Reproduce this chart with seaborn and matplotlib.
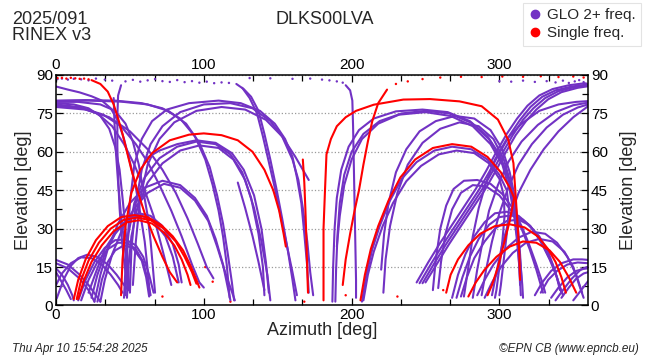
import matplotlib
matplotlib.use('Agg')
import matplotlib.pyplot as plt
from matplotlib.lines import Line2D
from matplotlib.ticker import MultipleLocator
import seaborn as sns
import pandas as pd


glo_west_low = [
    [(0, 17.8), (8, 16), (16, 12), (22, 8), (27, 4), (30, 1.5)],
    [(0, 16.5), (8, 14.5), (16, 10.5), (22, 6), (26, 1.5)],
    [(0, 14.5), (4, 12), (8, 8), (11, 4), (12, 2)],
    [(0, 13), (3, 10), (7, 6), (10, 2.5)],
    [(0.5, 2.8), (5, 10), (10, 15.5), (15, 18.5), (21, 19.8), (28, 19), (35, 16), (41, 12), (46, 8), (49, 6)],
    [(0, 8), (4, 12.5), (10, 16.5), (17, 18.8), (24, 18.5), (31, 16), (37, 12), (42, 8), (45, 5)],
]

glo_west_mid = [
    [(15, 2), (20, 10), (26, 17), (33, 22.5), (40, 25.5), (47, 25.8), (54, 23.5), (59, 19), (63, 12), (66, 5)],
    [(17, 2), (22, 10), (28, 17), (35, 22), (42, 24.5), (48, 24.5), (54, 22), (59, 17), (62, 10), (64, 4)],
    [(28, 1.5), (31, 10), (35, 17), (40, 21.5), (46, 23.5), (52, 22.5), (58, 17.5), (61, 11), (63, 3.5)],
    [(24, 3), (28, 12), (33, 20), (40, 28), (48, 33.5), (56, 36), (64, 35), (72, 31), (79, 24), (83, 16), (85, 9)],
    [(22, 5), (27, 13), (33, 22), (42, 30), (50, 34.5), (58, 35), (66, 33), (74, 27), (79, 19), (83, 9)],
    [(26, 1.5), (30, 12), (35, 22), (42, 32), (50, 40), (60, 46), (72, 48.7), (84, 47), (94, 42), (102, 35),
     (108, 26), (113, 16), (118, 2)],
    [(30, 1.5), (33, 10), (38, 20), (45, 30), (53, 38), (62, 44), (73, 47.5), (84, 46), (94, 41), (103, 33),
     (109, 23), (115, 12), (121, 2)],
]

glo_west_high = [
    [(46, 3), (47, 15), (49, 28), (53, 40), (60, 50), (70, 57.5), (82, 62), (95, 64), (108, 63), (118, 59),
     (126, 52), (132, 42), (137, 28), (140, 15), (141, 4)],
    [(48, 3), (49, 15), (51, 27), (55, 38), (62, 48), (72, 55.5), (84, 60.5), (97, 62.5), (110, 61.5), (120, 57),
     (128, 49), (134, 38), (139, 25), (143, 12), (145, 2)],
    [(61, 57.5), (70, 60.5), (82, 63), (95, 64.5), (108, 63.5), (119, 59.5), (127, 53), (134, 43), (139, 30),
     (142, 17), (144, 5)],
    [(47, 4), (48, 20), (50, 40), (53, 55), (58, 65), (65, 72), (75, 76.5), (90, 79), (110, 80), (125, 79),
     (138, 76), (148, 71), (155, 65), (160, 58), (163, 50), (166, 40), (168, 28), (170, 15), (171, 5)],
    [(50, 5), (51, 22), (54, 40), (58, 53), (64, 63), (72, 70), (84, 75.5), (100, 78.5), (118, 79), (133, 77),
     (145, 72), (153, 66), (160, 57), (164, 49), (167, 38), (170, 25), (172, 13), (174, 4)],
    [(52, 8), (54, 25), (57, 42), (62, 55), (70, 65), (80, 71.5), (95, 76), (112, 77.5), (128, 76.5), (142, 72.5),
     (153, 66), (162, 58), (168, 52), (171, 49)],
    [(122, 86.5), (127, 84.5), (132, 81.5), (137, 76), (141, 67), (145, 57), (149, 46), (153, 34), (157, 21),
     (160, 10), (162, 2)],
    [(126, 85), (131, 81), (136, 75), (140, 66), (144, 56), (148, 46), (152, 35), (156, 24), (160, 13), (163, 4)],
    [(123, 48), (128, 38), (133, 27), (137, 17), (141, 6)],
]

glo_west_desc = [
    [(0, 85.5), (8, 84.3), (16, 83.2), (24, 81.7), (31, 80), (37, 77), (42, 72), (46, 65), (50, 56), (54, 46),
     (57, 36), (60, 25), (62, 14), (63.5, 4)],
    [(0, 79.5), (15, 79.5), (30, 78.5), (40, 76), (47, 71), (52, 64), (56, 55), (59, 45), (62, 35), (64, 25),
     (65.5, 15), (67, 5)],
    [(0, 79), (12, 78.5), (22, 77), (30, 74), (36, 69), (40, 62), (43, 53), (45, 42), (47, 30), (48.5, 18), (49.5, 6)],
    [(0, 78.5), (15, 77.5), (28, 75), (38, 70), (46, 63), (53, 55), (60, 45), (66, 35), (71, 24), (75, 15), (78, 8)],
    [(0, 78), (18, 77), (32, 74.5), (44, 70), (54, 63), (62, 56), (70, 47), (78, 37), (85, 27), (92, 16), (97, 9),
     (100, 7)],
    [(0, 77.5), (20, 76.5), (36, 73.5), (50, 68), (62, 61), (72, 53), (81, 44), (89, 34), (96, 24), (102, 15),
     (106.5, 10.6)],
    [(0, 80), (20, 80.2), (40, 80), (58, 79), (72, 77), (84, 73), (94, 66), (101, 57), (106, 47), (110, 37),
     (113, 27), (115.5, 16), (117.5, 3)],
    [(0, 79.8), (22, 80), (44, 79.6), (62, 78.5), (76, 76), (88, 71), (97, 63.5), (104, 54), (109, 43), (113, 32),
     (116, 21), (119, 9), (120.5, 2)],
    [(44, 86), (42, 82), (41.5, 74), (41.5, 62), (42, 50), (43, 38), (44.5, 26), (46.5, 15), (49, 6)],
    [(39, 81), (39.5, 72), (40.5, 60), (42, 48), (44, 35), (46.5, 23), (48.5, 12), (50, 5.4)],
]

glo_east_high = [
    [(196, 86), (199, 84), (200.5, 80), (201, 70), (201.5, 55), (202, 40), (202.5, 25), (203, 10), (203, 3)],
    [(187, 1.5), (187.5, 15), (188.5, 30), (190, 42), (193, 53), (198, 62), (205, 68.5), (215, 73), (230, 75.8),
     (248, 76.5), (265, 75.5), (280, 72), (292, 66), (300, 59), (306, 50), (309.5, 40), (311.5, 30), (313, 20),
     (314, 10), (314.5, 4)],
    [(189, 1.5), (189.5, 14), (190.5, 28), (192, 40), (195, 51), (200, 60), (208, 67), (219, 72), (234, 75),
     (250, 76), (266, 75), (281, 71.3), (293, 65), (301, 57.5), (307, 48), (310.5, 38), (312.5, 28), (314, 18),
     (315.5, 8), (316, 3)],
    [(190, 23), (192, 35), (195, 47), (200, 57), (207, 65), (218, 71), (232, 74.5), (250, 75.5), (267, 74),
     (282, 70), (294, 63), (302, 55), (307, 45), (310, 35), (312, 25), (313.5, 15), (314, 8)],
    [(220, 14), (222, 28), (225, 40), (230, 52), (237, 61), (246, 68), (257, 72), (270, 74), (283, 73), (294, 68.5),
     (302, 61), (307, 52), (310.5, 42), (312.5, 31), (314, 20), (315, 10)],
    [(221.5, 5), (223, 18), (226, 31), (231, 44), (238, 55), (248, 63.5), (260, 69), (273, 71.5), (286, 70),
     (296, 65), (303, 57), (307.5, 48), (310.5, 38), (312.5, 27), (313.5, 20)],
    [(207, 1.5), (210, 12), (214, 22), (219, 31), (226, 41), (234, 49.5), (244, 56), (256, 60.5), (268, 62),
     (281, 61), (292, 57), (300, 51), (305, 45), (306.5, 38), (305, 28), (303, 18), (301, 8), (300, 4)],
    [(208, 2), (211, 12), (215, 21), (221, 31), (228, 40), (237, 48.5), (247, 54.5), (259, 59), (271, 60.5),
     (283, 59.5), (293, 55.5), (300, 49.5), (303, 43), (303.5, 35), (302, 25), (300, 15), (298, 6), (297, 3)],
]

glo_east_band = [
    [(244, 9), (252, 17), (260, 24.5), (268, 31.5), (276, 38.5), (284, 45.5), (291, 52.5), (298, 60), (305, 67),
     (312, 73), (319, 78), (327, 82), (336, 84.5), (347, 86), (358, 86.8)],
    [(246, 8.7), (254, 16.5), (262, 24), (270, 31), (278, 38), (286, 45), (293, 52), (300, 59.5), (307, 66.5),
     (314, 72.5), (321, 77.5), (329, 81.5), (338, 84), (349, 85.5), (360, 86.3)],
    [(248, 8.7), (256, 16.5), (264, 24), (272, 31), (280, 38), (288, 45), (295, 52), (302, 59.5), (309, 66.5),
     (316, 72.5), (323, 77), (331, 81), (340, 83.7), (351, 85.3), (360, 86)],
    [(250, 9), (258, 16.5), (266, 24), (274, 31), (282, 38), (290, 45), (297, 52), (304, 59.5), (311, 66.5),
     (318, 72), (325, 76.5), (333, 80.5), (342, 83.3), (353, 85), (360, 85.6)],
    [(276, 3.5), (279, 15), (282, 27), (286, 38), (291, 48), (297, 57), (305, 65), (315, 71), (327, 76), (340, 78.5),
     (352, 79.5), (360, 79.8)],
    [(282, 3), (285, 14), (289, 26), (293, 37), (299, 47), (306, 56), (315, 64), (326, 70.5), (338, 75.5),
     (350, 78.2), (360, 79.2)],
    [(288, 4), (291, 14), (295, 25), (300, 36), (306, 46), (313, 55), (322, 63), (332, 69.5), (343, 74.5),
     (353, 77.3), (360, 78.5)],
    [(295, 4), (298, 13), (302, 24), (307, 34), (313, 44), (321, 53), (330, 61), (340, 68), (350, 73.5), (360, 77.8)],
]

glo_east_low = [
    [(255, 6), (257, 18), (260, 30), (264, 39), (269, 45.5), (276, 48.7), (285, 49), (294, 47.5), (302, 43.5),
     (309, 38), (315, 31), (320, 24), (325, 16), (329, 9), (331, 5)],
    [(258.6, 6.8), (260.5, 17), (263.5, 28), (268, 37.5), (274, 44), (282, 47), (291, 46.5), (300, 43), (308, 37),
     (315, 30), (320.5, 22), (325, 14), (328, 8), (329.5, 5)],
    [(268, 3), (272, 12), (277, 20), (283, 27), (290, 32.5), (297, 36), (305, 36.6), (313, 35), (321, 31), (328, 25),
     (334, 18), (339, 11), (342, 5)],
    [(271, 3), (275, 11), (280, 19), (286, 26), (293, 31.5), (300, 34.5), (308, 35.2), (316, 33.5), (323, 29.5),
     (330, 23), (336, 16), (340, 9), (343, 4)],
    [(274, 3.5), (278, 11), (283, 18.5), (290, 25), (297, 30), (305, 33), (313, 33.5), (320, 31.5), (327, 27),
     (333, 21), (338, 13), (341, 6)],
    [(285, 4), (290, 10), (296, 16), (304, 22), (313, 26.5), (322, 28.8), (331, 28), (339, 24.5), (346, 19),
     (352, 12), (356, 5)],
    [(290, 3), (295, 9), (301, 15), (309, 20.5), (318, 24.5), (327, 26), (336, 25), (344, 21), (350, 15), (354, 8),
     (357, 3)],
    [(324, 4), (329, 9), (335, 13.5), (342, 16.5), (350, 18), (356, 18), (360, 17.8)],
    [(328, 5), (333, 10), (339, 13.5), (346, 16), (353, 16.8), (360, 16.5)],
    [(335, 3), (340, 7), (346, 11), (352, 13.5), (357, 14.3), (360, 14.5)],
    [(342, 3), (347, 7), (352, 10.5), (357, 12.5), (360, 13)],
    [(338, 2), (343, 6), (349, 10.5), (355, 14), (360, 15.2)],
    [(350, 2), (354, 5), (358, 8), (360, 9.5)],
]

# single frequency tracks
single_west = [
    [(44, 4), (45, 18), (47, 31), (51, 44), (57, 53), (65, 59.5), (77, 64.5), (90, 66.7), (100, 67.2), (112, 66.5),
     (123, 64.5), (133, 60), (141, 53), (147, 45), (151, 37), (154, 28), (155.5, 23)],
    [(24, 88), (30, 86.5), (35, 83.5), (39, 78.5), (42, 73), (45, 67), (48, 60), (51, 53), (55, 45), (60, 36),
     (66, 27), (72, 19), (77, 13), (82, 9)],
    [(12, 2.5), (15, 10), (20, 18), (27, 25.5), (35, 31), (44, 34.5), (53, 35.3), (62, 34.5), (71, 31.5), (79, 27),
     (86, 21.5), (91, 15.5), (95, 10), (97, 7)],
    [(14, 2.5), (17, 10), (22, 17.5), (29, 24.5), (37, 30), (46, 33.5), (55, 34.3), (64, 33.3), (73, 30), (81, 25),
     (87, 19), (92, 13), (95, 8.5)],
    [(15, 2.5), (19, 10), (24, 17), (31, 23.5), (39, 29), (48, 32.5), (56, 33.3), (65, 32), (73, 28.5), (80, 23.5),
     (85, 18), (89, 12), (91, 8)],
    [(167, 57), (168, 48), (168.7, 38), (169.3, 28), (169.8, 18), (170.2, 10), (170.5, 5)],
]

single_east = [
    [(181, 2), (181, 15), (181, 30), (182, 45), (183, 59), (186, 65), (190, 70), (196, 73.5), (203, 76), (215, 78.4),
     (235, 80.4), (253, 80.6), (273, 79.7), (288, 77.8), (299, 72.6), (306, 64.7), (309.5, 55.6), (311, 43),
     (312.5, 30), (313.5, 20), (314, 10)],
    [(194, 8), (196, 18), (199, 28), (202, 37), (205, 45), (208, 55), (211, 64), (214, 72), (218, 79), (224, 84.3)],
    [(206, 2), (209, 12), (213, 22), (218, 31), (225, 41), (233, 50), (243, 57), (255, 61.5), (268, 63), (281, 62),
     (292, 58), (301, 52), (307, 46), (310, 42), (307, 33), (303, 24), (299, 15), (295, 8), (292, 4)],
    [(264, 5), (267, 12), (272, 18), (279, 23.5), (287, 28), (297, 31), (307, 31.7), (317, 30.5), (326, 27),
     (333, 22), (338, 17), (342, 11), (345, 5)],
    [(279, 3.5), (284, 9), (290, 14), (298, 19), (307, 23), (316, 25), (325, 24.5), (334, 21.5), (341, 17),
     (347, 11), (352, 5)],
]

# sparse epochs close to the zenith
glo_dot_az = [1, 4, 8, 12, 17, 22, 27, 33, 38, 47, 52, 57, 62, 67, 72, 77, 82, 87, 92, 97, 102, 107, 112, 117,
              131, 145, 160, 172, 180, 185, 190, 194, 300, 308, 316, 324, 332, 338, 343, 347, 351, 354, 357, 359]
glo_dot_el = [88.4, 88.6, 88.2, 88.5, 88.3, 87.9, 88.6, 88.2, 87.8, 87.5, 88.1, 87.4, 87.9, 88.4, 87.6, 87.3,
              88.0, 87.2, 87.6, 87.0, 87.4, 86.8, 87.1, 86.9, 88.8, 88.7, 88.5, 88.6, 88.2, 87.9, 87.5, 87.0,
              87.6, 87.4, 87.8, 87.3, 87.6, 87.1, 87.8, 86.9, 87.5, 88.0, 87.2, 86.6]
single_dot_az = [1, 4, 7, 10, 13, 16, 19, 22, 230, 238, 248, 260, 274, 288, 302, 316, 328, 340, 350, 357,
                 72, 101, 106, 118, 168, 196, 231, 262]
single_dot_el = [88.8, 88.9, 88.6, 88.9, 88.7, 88.5, 88.6, 88.3, 86.5, 87.5, 88.4, 89.0, 89.3, 89.2, 89.4, 89.3,
                 89.5, 89.2, 89.4, 89.0, 3.5, 15, 9.3, 1.5, 1.5, 4, 3.5, 6]

GLO = 'GLO 2+ freq.'
SINGLE = 'Single freq.'
colors = {GLO: '#7232c4', SINGLE: '#ff0000'}

rows = []
n = 0
for kind, families in ((GLO, [glo_west_low, glo_west_mid, glo_west_high, glo_west_desc,
                              glo_east_high, glo_east_band, glo_east_low]),
                       (SINGLE, [single_west, single_east])):
    for fam in families:
        for track in fam:
            n += 1
            for az, el in track:
                rows.append({'track': n, 'kind': kind, 'az': az, 'el': el})
tracks = pd.DataFrame(rows)

dots = pd.concat([
    pd.DataFrame({'az': glo_dot_az, 'el': glo_dot_el, 'kind': GLO}),
    pd.DataFrame({'az': single_dot_az, 'el': single_dot_el, 'kind': SINGLE}),
])

sns.set_style('ticks')
plt.rcParams['font.family'] = ['Liberation Sans', 'DejaVu Sans']

fig = plt.figure(figsize=(6.5, 3.6), dpi=100)
ax = fig.add_axes([0.0862, 0.1514, 0.8185, 0.6403])

sns.lineplot(data=tracks, x='az', y='el', hue='kind', units='track', estimator=None, sort=False,
             palette=colors, linewidth=1.5, legend=False, ax=ax)
sns.scatterplot(data=dots, x='az', y='el', hue='kind', palette=colors, s=3, linewidth=0,
                legend=False, ax=ax)

ax.set_xlim(0, 360)
ax.set_ylim(0, 90)
ax.set_xticks([0, 100, 200, 300])
ax.xaxis.set_minor_locator(MultipleLocator(100 / 3))
ax.set_yticks(range(0, 91, 15))
ax.yaxis.set_minor_locator(MultipleLocator(7.5))
ax.tick_params(which='both', direction='in', top=True, right=True, labeltop=True, labelright=True,
               labelsize=11, colors='black', width=0.9, pad=2)
ax.tick_params(which='major', length=5)
ax.tick_params(which='minor', length=4)
ax.grid(axis='y', linestyle=':', color='#9a9a9a', linewidth=0.9)
ax.set_axisbelow(True)
for sp in ax.spines.values():
    sp.set_color('black')
    sp.set_linewidth(1.1)

ax.set_xlabel('Azimuth [deg]', fontsize=13, labelpad=0)
ax.set_ylabel('Elevation [deg]', fontsize=13, labelpad=3)
fig.text(0.967, 0.472, 'Elevation [deg]', rotation=90, fontsize=13, ha='center', va='center')

fig.text(0.018, 0.933, '2025/091', fontsize=13, va='baseline')
fig.text(0.018, 0.889, 'RINEX v3', fontsize=13, va='baseline')
fig.text(0.5, 0.933, 'DLKS00LVA', fontsize=13, ha='center', va='baseline')
fig.text(0.018, 0.022, 'Thu Apr 10 15:54:28 2025', fontsize=8.5, style='italic', va='baseline')
fig.text(0.982, 0.022, '\u00a9EPN CB (www.epncb.eu)', fontsize=8.5, style='italic', ha='right', va='baseline')

handles = [Line2D([], [], marker='o', linestyle='', color=colors[k], markersize=6) for k in (GLO, SINGLE)]
leg = fig.legend(handles, [GLO, SINGLE], loc='upper right', bbox_to_anchor=(0.986, 0.993), fontsize=11,
                 frameon=True, fancybox=False, handlelength=0.8, handletextpad=0.4, borderpad=0.35,
                 labelspacing=0.3, borderaxespad=0)
leg.get_frame().set_edgecolor('#dddddd')
leg.get_frame().set_linewidth(0.8)

fig.savefig('out.png', dpi=100)
